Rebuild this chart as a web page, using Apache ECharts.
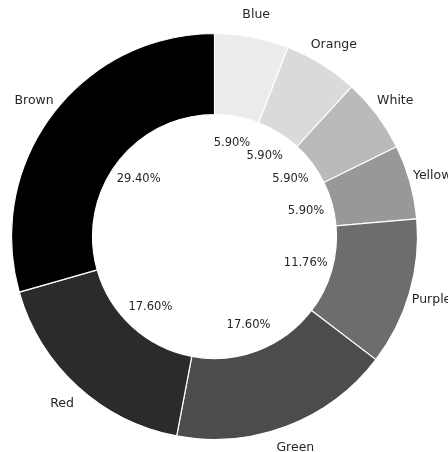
<!DOCTYPE html>
<html>
<head>
<meta charset="utf-8">
<script src="https://cdn.jsdelivr.net/npm/echarts@6/dist/echarts.min.js"></script>
<style>html,body{margin:0;padding:0;background:#fff}#c{width:448px;height:452px}</style>
</head>
<body>
<div id="c"></div>
<script>
var categories = ['Blue', 'Orange', 'White', 'Yellow', 'Purple', 'Green', 'Red', 'Brown'];
var values = [5.90, 5.90, 5.90, 5.90, 11.76, 17.60, 17.60, 29.40];
var pctLabels = ['5.90%', '5.90%', '5.90%', '5.90%', '11.76%', '17.60%', '17.60%', '29.40%'];
var colors = ['#ececec', '#dadada', '#bababa', '#989898', '#6d6d6d', '#4c4c4c', '#2b2b2b', '#000000'];

var center = [214.5, 236.5];
var font = '"DejaVu Sans", sans-serif';

var wedgeData = categories.map(function (c, i) {
  return { name: c, value: values[i], itemStyle: { color: colors[i] } };
});
var plainData = categories.map(function (c, i) {
  return { name: c, value: values[i], pct: pctLabels[i] };
});

var chart = echarts.init(document.getElementById('c'), null, { renderer: 'canvas' });
chart.setOption({
  backgroundColor: '#ffffff',
  animation: false,
  series: [
    {
      type: 'pie',
      center: center,
      radius: [122, 203],
      startAngle: 90,
      clockwise: true,
      silent: true,
      label: { show: false },
      labelLine: { show: false },
      itemStyle: { borderColor: '#ffffff', borderWidth: 1.2 },
      data: wedgeData
    },
    {
      type: 'pie',
      center: center,
      radius: [0, 184],
      startAngle: 90,
      clockwise: true,
      silent: true,
      itemStyle: { color: 'rgba(0,0,0,0)', borderWidth: 0 },
      label: {
        show: true, position: 'inside', rotate: 0,
        formatter: function (p) { return p.data.pct; },
        color: '#262626', fontSize: 11.5, fontFamily: font
      },
      labelLine: { show: false },
      data: plainData
    },
    {
      type: 'pie',
      center: center,
      radius: [222, 224],
      startAngle: 90,
      clockwise: true,
      silent: true,
      itemStyle: { color: 'rgba(0,0,0,0)', borderWidth: 0 },
      label: {
        show: true, position: 'inside', rotate: 0,
        formatter: '{b}',
        color: '#262626', fontSize: 12.5, fontFamily: font
      },
      labelLine: { show: false },
      data: plainData
    }
  ]
});
</script>
</body>
</html>
